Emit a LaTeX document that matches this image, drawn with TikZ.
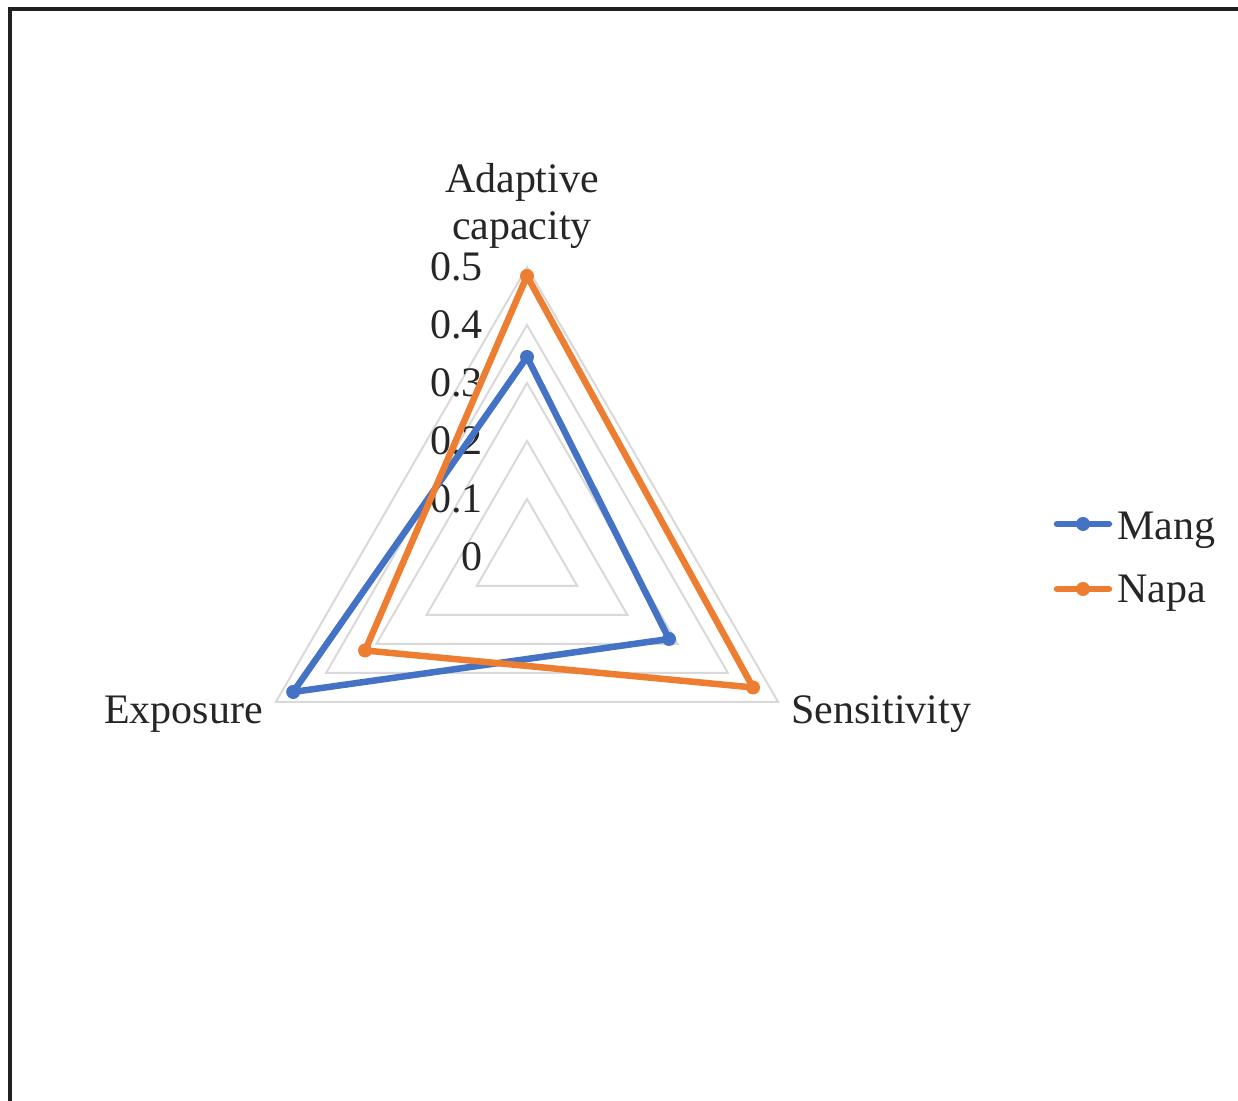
\documentclass[tikz,border=0pt]{standalone}
\usepackage{fontspec}
\setmainfont{Liberation Serif}
\usepackage{xcolor}
\usetikzlibrary{calc,positioning}
\definecolor{mangblue}{HTML}{4472C4}
\definecolor{napaorange}{HTML}{ED7D31}
\definecolor{gridgray}{HTML}{D9D9D9}
\definecolor{framegray}{HTML}{231F20}
\tikzset{
  frameline/.style={line width=4*0.02cm,framegray},
  gridline/.style={line width=2*0.02cm,gridgray,line join=miter},
  mangline/.style={line width=6.5*0.02cm,mangblue,line join=round},
  napaline/.style={line width=6.5*0.02cm,napaorange,line join=round},
  mangdot/.style={circle,fill=mangblue,inner sep=0pt,minimum size=14*0.02cm},
  napadot/.style={circle,fill=napaorange,inner sep=0pt,minimum size=14*0.02cm},
  chartlabel/.style={font=\fontsize{23.9}{26.8}\selectfont,inner sep=0pt,text=black!85}
}
\begin{document}
\begin{tikzpicture}[x=0.02cm,y=0.02cm]
  \useasboundingbox (0,0) rectangle (1238,1101);
  % frame round the chart
  \draw[frameline] (9.5,0) -- (9.5,1091.5) -- (1238,1091.5);
  \begin{scope}[shift={(527,544)}]
    % grid, one triangle for each 0.1
    \foreach \r in {1,...,5}
      \draw[gridline] (90:58*\r) -- (210:58*\r) -- (330:58*\r) -- cycle;
    \foreach \r/\t in {0/0,1/0.1,2/0.2,3/0.3,4/0.4,5/0.5}
      \node[chartlabel,anchor=east] (tick\r) at (-44,58*\r) {\t};
    % axis names
    \node[chartlabel,anchor=base,align=center] (adapt) at (-5,317) {Adaptive\\capacity};
    \node[chartlabel,anchor=base east] (expo) at (-264,-167) {Exposure};
    \node[chartlabel,anchor=base west] (sens) at (264,-167) {Sensitivity};
    % data points
    \coordinate (mangA) at (90:200);
    \coordinate (mangS) at (330:164);
    \coordinate (mangE) at (210:270);
    \coordinate (napaA) at (90:281);
    \coordinate (napaS) at (330:261);
    \coordinate (napaE) at (210:187);
    \draw[mangline] (mangA) -- (mangS) -- (mangE) -- cycle;
    \foreach \p in {mangA,mangS,mangE}
      \node[mangdot] at (\p) {};
    \draw[napaline] (napaA) -- (napaS) -- (napaE) -- cycle;
    \foreach \p in {napaA,napaS,napaE}
      \node[napadot] at (\p) {};
  \end{scope}
  % legend
  \coordinate (mangL) at (1057,577);
  \coordinate (mangR) at (1109,577);
  \coordinate (napaL) at (1057,512);
  \coordinate (napaR) at (1109,512);
  \draw[mangline,line cap=round] (mangL) -- (mangR);
  \node[mangdot] at ($(mangL)!0.5!(mangR)$) {};
  \draw[napaline,line cap=round] (napaL) -- (napaR);
  \node[napadot] at ($(napaL)!0.5!(napaR)$) {};
  \node[chartlabel,anchor=base west] (mang) at (1117,561) {Mang};
  \node[chartlabel,anchor=base west] (napa) at (1117,498) {Napa};
\end{tikzpicture}
\end{document}
